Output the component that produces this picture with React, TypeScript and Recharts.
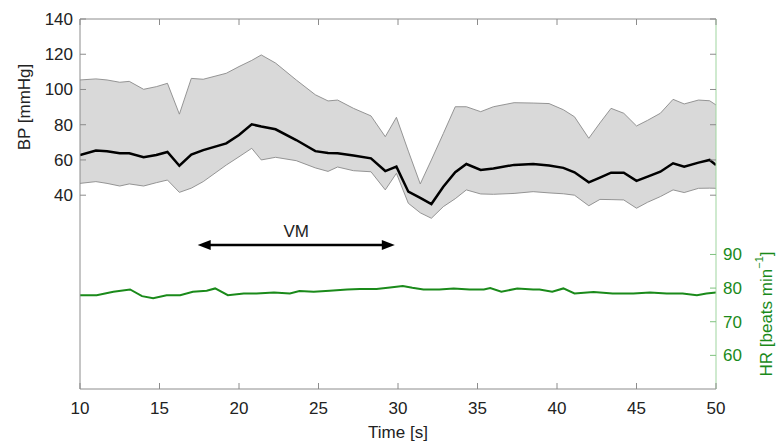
import React from 'react';
import { Area, ComposedChart, Line, ReferenceLine, XAxis, YAxis } from 'recharts';

const bpTime = [
  10, 11, 11.7, 12.5, 13.1, 14, 14.8, 15.5, 16.25, 17, 17.75, 19.2, 20, 20.8, 21.4, 22.3, 23.6, 24.8, 25.6, 26.2,
  27.2, 28.3, 29.2, 29.9, 30.65, 31.4, 32.1, 32.85, 33.6, 34.3, 35.2, 36, 37.3, 38.5, 39.5, 40.4, 41.1, 42, 42.7,
  43.4, 44.2, 45, 45.7, 46.5, 47.3, 48, 48.9, 49.6, 50
];
const bpUpper = [
  105.4, 106, 105.4, 104.1, 104.6, 100.1, 101.6, 103.5, 86, 106.3, 105.8, 109.2, 113, 116.5, 119.6, 115, 105.4, 97,
  93.5, 94, 89.3, 85, 73.2, 84.2, 65, 46.4, 60, 75, 90.2, 90.2, 87.4, 90.2, 92.5, 92.3, 92, 88.5, 84.5, 72.3, 81,
  89.3, 86.5, 79.3, 82.5, 86.5, 94.4, 91.8, 94, 93.6, 91.2
];
const bpMean = [
  62.8, 65.3, 65, 63.8, 63.8, 61.5, 62.8, 64.5, 56.7, 63, 65.6, 69.4, 74.2, 80.2, 79, 77.4, 71.3, 65, 64, 63.8, 62.5,
  60.9, 53.7, 56.2, 42, 38.5, 35, 44.8, 53, 57.7, 54.3, 55.2, 57.2, 57.7, 56.8, 55.5, 53, 47.3, 50, 52.8, 52.8, 48.1,
  50.5, 53.3, 58.1, 56.2, 58.5, 60, 57.1
];
const bpLower = [
  46.7, 47.7, 46.7, 45.2, 46.4, 45.2, 47.1, 48.6, 41.6, 44, 47.7, 57.1, 61.8, 66.6, 60, 61.5, 59.6, 55.5, 53.5, 56,
  53.9, 53.3, 43, 52.4, 35.4, 30, 26.9, 33.5, 38, 43, 40.7, 40.5, 41, 42, 41.3, 40.8, 40, 34, 37.6, 37.5, 37.3, 32.6,
  36, 39.2, 43, 41.5, 43.9, 44, 43.9
];

// heart rate
const hrTime = [
  10, 11.05, 12.1, 13.15, 13.9, 14.6, 15.45, 16.3, 17.1, 17.97, 18.5, 19.3, 20.3, 21.1, 22.2, 23.2, 23.8, 24.7, 25.7,
  26.8, 27.6, 28.65, 29.5, 30.3, 30.9, 31.6, 32.6, 33.5, 34.5, 35.4, 35.8, 36.5, 37.5, 38.5, 38.9, 39.7, 40.4, 41.1,
  42.3, 43.5, 44.8, 45.85, 46.9, 47.9, 48.8, 49.4, 50
];
const hrValues = [
  77.9, 77.9, 78.9, 79.6, 77.6, 77.0, 77.9, 77.9, 78.9, 79.2, 79.9, 77.9, 78.4, 78.4, 78.7, 78.4, 79.1, 78.9, 79.2,
  79.6, 79.7, 79.7, 80.2, 80.6, 80.1, 79.6, 79.6, 79.9, 79.6, 79.6, 80.0, 78.9, 79.9, 79.6, 79.6, 78.9, 79.9, 78.4,
  78.8, 78.4, 78.4, 78.7, 78.4, 78.4, 77.9, 78.4, 78.7
];

const timeTicks = [10, 15, 20, 25, 30, 35, 40, 45, 50];
const bpTicks = [40, 60, 80, 100, 120, 140];
const hrTicks = [60, 70, 80, 90];
const vmLabel = 'VM';
const vmSpan = [17.4, 29.8];
const vmLevel = 11.7;

const bpData = bpTime.map((t, i) => ({
  t,
  band: [bpLower[i], bpUpper[i]],
  upper: bpUpper[i],
  lower: bpLower[i],
  mean: bpMean[i]
}));
const hrData = hrTime.map((t, i) => ({ t, hr: hrValues[i] }));

const W = 778;
const H = 444;
const margin = { top: 19, right: 12, bottom: 15, left: 20 };
const leftAxisW = 60;
const rightAxisW = 50;
const xAxisH = 40;
const plotLeft = margin.left + leftAxisW;
const plotRight = W - margin.right - rightAxisW;
const plotTop = margin.top;
const plotBottom = H - margin.bottom - xAxisH;

const font = '"Liberation Sans", Arial, sans-serif';
const axisGray = '#8c8c8c';
const textColor = '#222';
const green = '#1a8a1a';
const tickLen = 6;

function TimeTick({ x, payload }: any) {
  return (
    <g>
      <line x1={x} x2={x} y1={plotBottom} y2={plotBottom - tickLen} stroke={axisGray} />
      <line x1={x} x2={x} y1={plotTop} y2={plotTop + tickLen} stroke={axisGray} />
      <text x={x} y={plotBottom + 25} textAnchor="middle" fontSize={17} fill={textColor} fontFamily={font}>
        {payload.value}
      </text>
    </g>
  );
}

function BpTick({ y, payload }: any) {
  return (
    <g>
      <line x1={plotLeft} x2={plotLeft + tickLen} y1={y} y2={y} stroke={axisGray} />
      <line x1={plotRight} x2={plotRight - tickLen} y1={y} y2={y} stroke={axisGray} />
      <text x={plotLeft - 7} y={y} dy={6} textAnchor="end" fontSize={17} fill={textColor} fontFamily={font}>
        {payload.value}
      </text>
    </g>
  );
}

function HrTick({ y, payload }: any) {
  return (
    <g>
      <line x1={plotRight} x2={plotRight - tickLen} y1={y} y2={y} stroke="#7fc27f" />
      <text x={plotRight + 7} y={y} dy={6} textAnchor="start" fontSize={17} fill={green} fontFamily={font}>
        {payload.value}
      </text>
    </g>
  );
}

function VmArrow({ x1, y1, x2, y2 }: any) {
  const head = 13;
  const half = 5;
  return (
    <g>
      <line x1={x1 + head - 2} y1={y1} x2={x2 - head + 2} y2={y2} stroke="#000" strokeWidth={2.5} />
      <polygon points={`${x1},${y1} ${x1 + head},${y1 - half} ${x1 + head},${y1 + half}`} fill="#000" />
      <polygon points={`${x2},${y2} ${x2 - head},${y2 - half} ${x2 - head},${y2 + half}`} fill="#000" />
      <text x={(x1 + x2) / 2} y={y1 - 8} textAnchor="middle" fontSize={17} fill={textColor} fontFamily={font}>
        {vmLabel}
      </text>
    </g>
  );
}

export default function App() {
  return (
    <div style={{ position: 'absolute', left: 0, top: 0, width: W, height: H, background: '#fff' }}>
      <ComposedChart width={W} height={H} margin={margin}>
        <XAxis
          type="number"
          dataKey="t"
          domain={[10, 50]}
          ticks={timeTicks}
          height={xAxisH}
          stroke={axisGray}
          tickLine={false}
          tickSize={0}
          tick={<TimeTick />}
          allowDataOverflow
          label={() => (
            <text x={(plotLeft + plotRight) / 2} y={H - 6} textAnchor="middle" fontSize={17} fill={textColor} fontFamily={font}>
              Time [s]
            </text>
          )}
        />
        <YAxis
          yAxisId="bp"
          domain={[-70, 140]}
          ticks={bpTicks}
          width={leftAxisW}
          stroke={axisGray}
          tickLine={false}
          tickSize={0}
          tick={<BpTick />}
          allowDataOverflow
          label={() => (
            <text
              x={24}
              y={107}
              transform="rotate(-90 24 107)"
              textAnchor="middle"
              dominantBaseline="central"
              fontSize={17}
              fill={textColor}
              fontFamily={font}
            >
              BP [mmHg]
            </text>
          )}
        />
        <YAxis
          yAxisId="hr"
          orientation="right"
          domain={[50, 160]}
          ticks={hrTicks}
          width={rightAxisW}
          stroke="#9fd59f"
          tickLine={false}
          tickSize={0}
          tick={<HrTick />}
          allowDataOverflow
          label={() => (
            <text
              x={766}
              y={314}
              transform="rotate(-90 766 314)"
              textAnchor="middle"
              dominantBaseline="central"
              fontSize={17}
              fill={green}
              fontFamily={font}
            >
              HR [beats min
              <tspan fontSize={11} dy={-7}>
                −1
              </tspan>
              <tspan dy={7}>]</tspan>
            </text>
          )}
        />
        <ReferenceLine yAxisId="bp" y={140} stroke={axisGray} />
        <Area
          yAxisId="bp"
          data={bpData}
          dataKey="band"
          type="linear"
          stroke="none"
          fill="#d9d9d9"
          fillOpacity={1}
          dot={false}
          activeDot={false}
          isAnimationActive={false}
        />
        <Line yAxisId="bp" data={bpData} dataKey="upper" type="linear" stroke="#8a8a8a" strokeWidth={0.9} dot={false} activeDot={false} isAnimationActive={false} />
        <Line yAxisId="bp" data={bpData} dataKey="lower" type="linear" stroke="#8a8a8a" strokeWidth={0.9} dot={false} activeDot={false} isAnimationActive={false} />
        <Line yAxisId="bp" data={bpData} dataKey="mean" type="linear" stroke="#000" strokeWidth={2.5} dot={false} activeDot={false} isAnimationActive={false} />
        <Line yAxisId="hr" data={hrData} dataKey="hr" type="linear" stroke={green} strokeWidth={2} dot={false} activeDot={false} isAnimationActive={false} />
        <ReferenceLine
          yAxisId="bp"
          segment={[
            { x: vmSpan[0], y: vmLevel },
            { x: vmSpan[1], y: vmLevel }
          ]}
          shape={(p: any) => <VmArrow {...p} />}
        />
      </ComposedChart>
    </div>
  );
}
